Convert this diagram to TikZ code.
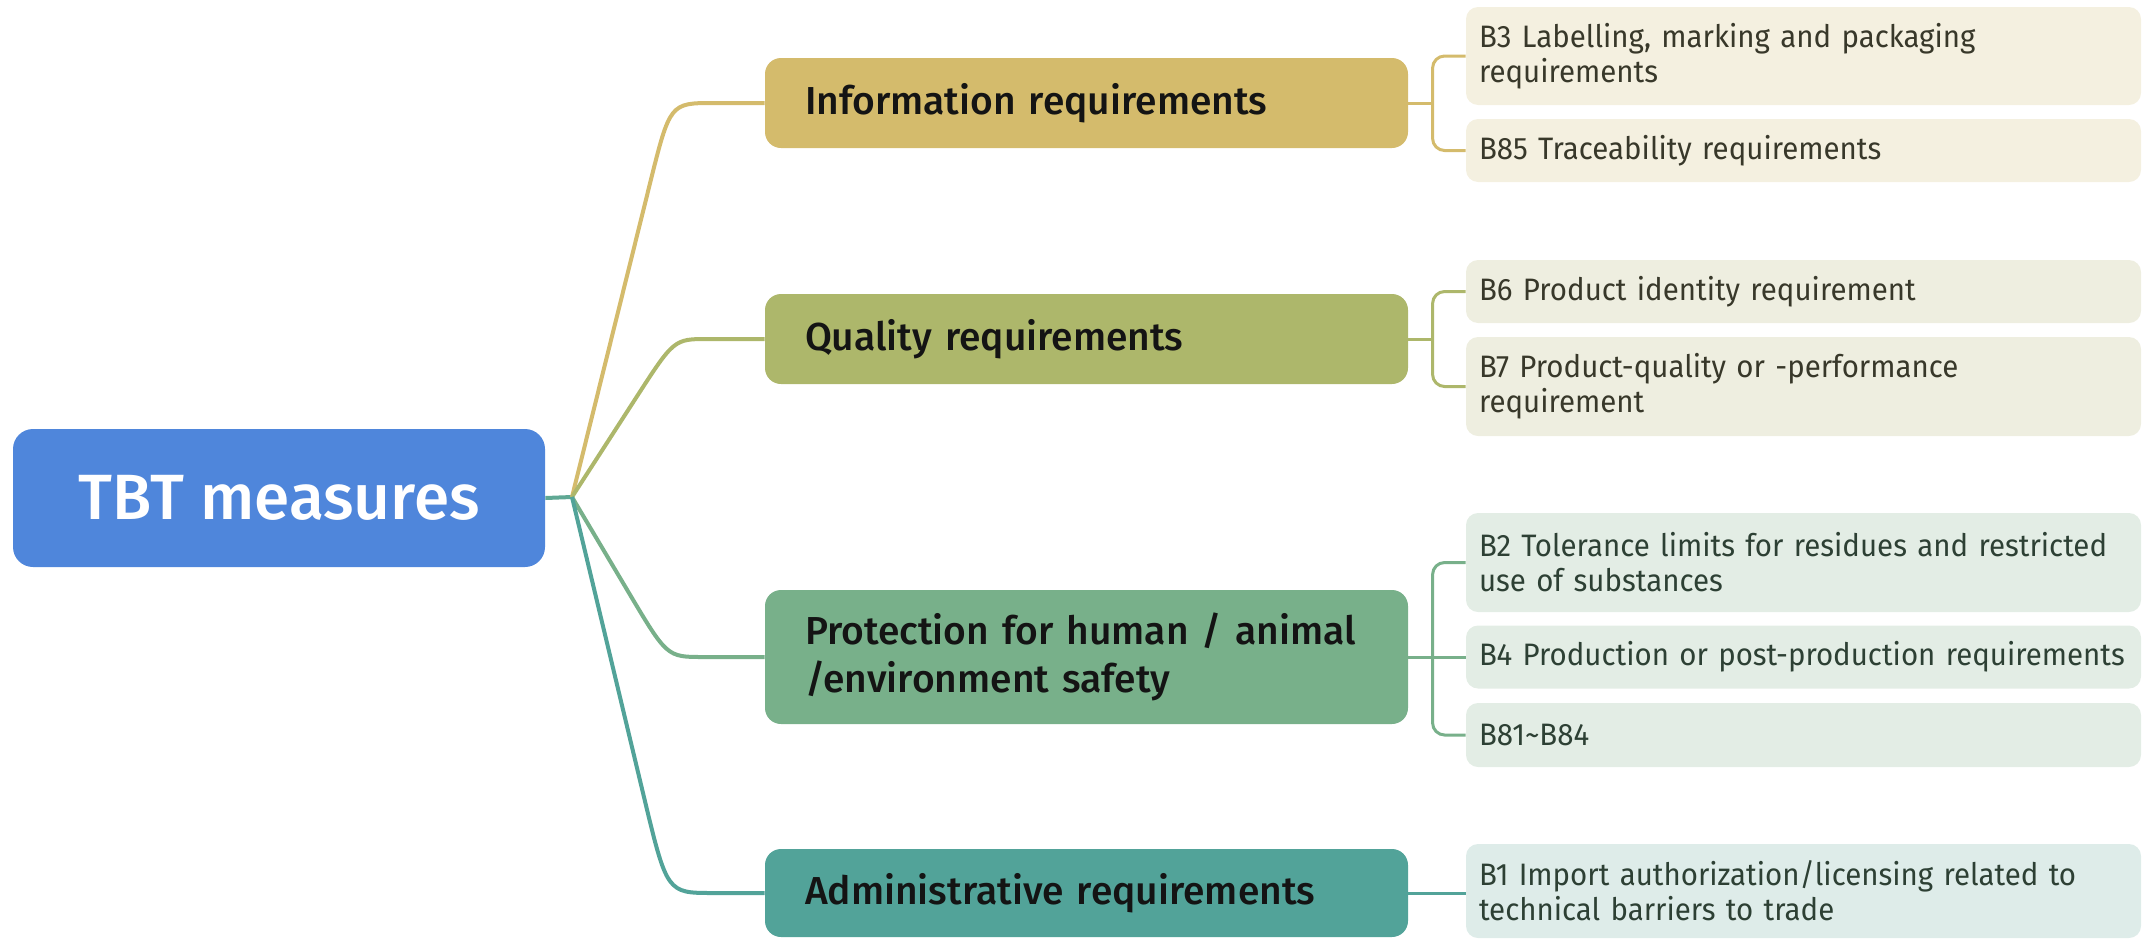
\documentclass[tikz,border=0pt]{standalone}
\usepackage{fontspec}
\setmainfont{Fira Sans}
\newfontfamily\medfont{Fira Sans Medium}
\newfontfamily\ltwofont{Fira Sans}[FakeStretch=0.95]
\usetikzlibrary{calc}
\definecolor{rootc}{HTML}{4F86DB}
\definecolor{infoc}{HTML}{D4BB6C}
\definecolor{qualc}{HTML}{ADB76B}
\definecolor{protc}{HTML}{78B08A}
\definecolor{admc}{HTML}{52A399}
\definecolor{rootline}{HTML}{5FA894}
\definecolor{infol}{HTML}{F4F0E0}
\definecolor{quall}{HTML}{EEEEE0}
\definecolor{protl}{HTML}{E3EDE5}
\definecolor{adml}{HTML}{DEECE9}
\definecolor{ltext}{HTML}{38382A}
\definecolor{gtext}{HTML}{2D4034}
\tikzset{
  rootbox/.style={fill=rootc, rounded corners=10pt, minimum width=266pt, minimum height=69pt,
    inner sep=0pt, text=white, font=\medfont\fontsize{32}{38}\selectfont},
  lonebox/.style={rounded corners=8pt, minimum width=321.5pt, inner xsep=20pt, inner ysep=0pt,
    text width=281.5pt, align=left, font=\medfont\fontsize{19.5}{24}\selectfont, text=black!92},
  ltwobox/.style={rounded corners=6pt, minimum width=337.5pt, inner xsep=6.5pt, inner ysep=0pt,
    text width=324.5pt, align=left, font=\ltwofont\fontsize{15.5}{17.5}\selectfont, text=ltext,
    execute at begin node={\hyphenpenalty=10000\exhyphenpenalty=10000}},
  conn/.style={line width=2pt},
  bconn/.style={line width=1.5pt, rounded corners=6pt},
}
\begin{document}
\begin{tikzpicture}[x=0.5pt,y=-0.5pt]
\useasboundingbox (0,0) rectangle (2143,938);
% root
\node[rootbox] (root) at (279,498) {TBT measures};
\coordinate (hub) at (572,497);
% level 1
\node[lonebox, fill=infoc, minimum height=45pt] (info) at (1086.5,103) {Information requirements};
\node[lonebox, fill=qualc, minimum height=45pt] (qual) at (1086.5,339) {Quality requirements};
\node[lonebox, fill=protc, minimum height=67pt] (prot) at (1086.5,657) {Protection for human / animal\\/environment safety};
\node[lonebox, fill=admc, minimum height=44pt] (adm) at (1086.5,893) {Administrative requirements};
% level 2
\node[ltwobox, fill=infol, minimum height=49pt] (b3) at (1803.5,56) {B3 Labelling, marking and packaging\\requirements};
\node[ltwobox, fill=infol, minimum height=31.5pt] (b85) at (1803.5,150.5) {B85 Traceability requirements};
\node[ltwobox, fill=quall, minimum height=31.5pt] (b6) at (1803.5,291.5) {B6 Product identity requirement};
\node[ltwobox, fill=quall, minimum height=49.5pt] (b7) at (1803.5,386.5) {B7 Product-quality or -performance\\requirement};
\node[ltwobox, fill=protl, minimum height=49.5pt, text=gtext] (b2) at (1803.5,562.5) {B2 Tolerance limits for residues and restricted\\use of substances};
\node[ltwobox, fill=protl, minimum height=31.5pt, text=gtext] (b4) at (1803.5,657) {B4 Production or post-production requirements};
\node[ltwobox, fill=protl, minimum height=32pt, text=gtext] (b81) at (1803.5,735) {B81\textasciitilde B84};
\node[ltwobox, fill=adml, minimum height=47pt, text=gtext] (b1) at (1803.5,891) {B1 Import authorization/licensing related to\\technical barriers to trade};
% root to hub
\draw[conn, rootline] (root.east) -- (hub);
% hub to level 1
\coordinate (c1) at (670,103);
\coordinate (c2) at (674,339);
\coordinate (c3) at (667,657);
\coordinate (c4) at (667,893);
\draw[conn, infoc] (hub) -- ($(c1)!42pt!(hub)$) .. controls (c1) .. ($(c1)+(44,0)$) -- (info.west);
\draw[conn, qualc] (hub) -- ($(c2)!35pt!(hub)$) .. controls (c2) .. ($(c2)+(34,0)$) -- (qual.west);
\draw[conn, protc] (hub) -- ($(c3)!38pt!(hub)$) .. controls (c3) .. ($(c3)+(36,0)$) -- (prot.west);
\draw[conn, admc] (hub) -- ($(c4)!50pt!(hub)$) .. controls (c4) .. ($(c4)+(46,0)$) -- (adm.west);
% level 1 to level 2
\draw[bconn, infoc] (info.east) -- ++(25,0);
\draw[bconn, infoc] (b3.west) -- ++(-33,0) |- (b85.west);
\draw[bconn, qualc] (qual.east) -- ++(25,0);
\draw[bconn, qualc] (b6.west) -- ++(-33,0) |- (b7.west);
\draw[bconn, protc] (prot.east) -- (prot.east -| b4.west);
\draw[bconn, protc] (b2.west) -- ++(-33,0) |- (b81.west);
\draw[bconn, admc] (adm.east) -- (adm.east -| b1.west);
\end{tikzpicture}
\end{document}
